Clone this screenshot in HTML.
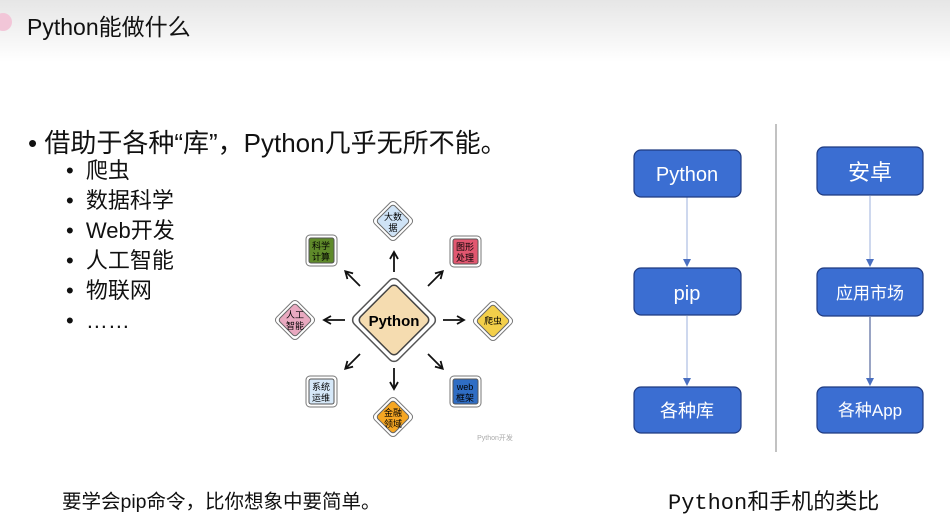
<!DOCTYPE html>
<html><head><meta charset="utf-8"><style>
body{margin:0;width:950px;height:526px;background:#fff;position:relative;overflow:hidden;font-family:"Liberation Sans","Noto Sans CJK SC",sans-serif;}
.hdr{position:absolute;left:0;top:0;width:950px;height:62px;background:linear-gradient(#e6e6e6,#fff);}
.t{position:absolute;white-space:nowrap;color:#111;}
</style></head><body>
<div class="hdr"></div>
<div style="position:absolute;left:-6px;top:13px;width:18px;height:18px;border-radius:50%;background:#f2c6d8"></div>
<div class="t" style="left:27px;top:8px;font-size:23px;">Python能做什么</div>
<div class="t" style="left:28px;top:123px;font-size:26px;">•&nbsp;借助于各种“库”，Python几乎无所不能。</div>
<div class="t" style="left:66px;top:156px;font-size:22px;line-height:30px;">•&nbsp;&nbsp;爬虫<br>•&nbsp;&nbsp;数据科学<br>•&nbsp;&nbsp;Web开发<br>•&nbsp;&nbsp;人工智能<br>•&nbsp;&nbsp;物联网<br>•&nbsp;&nbsp;……</div>
<div class="t" style="left:62px;top:485px;font-size:19.5px;">要学会pip命令，比你想象中要简单。</div>
<div class="t" style="left:668px;top:484px;font-size:22px;font-family:'Liberation Mono','Noto Sans CJK SC',monospace;">Python和手机的类比</div>
<svg width="950" height="526" style="position:absolute;left:0;top:0" font-family="Liberation Sans,Noto Sans CJK SC,sans-serif">
<defs><marker id="a" markerUnits="userSpaceOnUse" markerWidth="10" markerHeight="10" refX="7" refY="5" orient="auto"><path d="M1,1L8,5L1,9" fill="none" stroke="#111" stroke-width="1.8"/></marker>
<marker id="b" markerWidth="8" markerHeight="8" refX="6" refY="4" orient="auto"><path d="M0,0L8,4L0,8z" fill="#4a6fc0"/></marker></defs>
<g transform="translate(394,320) rotate(45)"><rect x="-31" y="-31" width="62" height="62" rx="6" fill="#fff" stroke="#555" stroke-width="1.5"/><rect x="-26" y="-26" width="52" height="52" rx="5" fill="#f5dcb0" stroke="#444" stroke-width="1.5"/></g>
<text x="394" y="326" font-size="15" font-weight="bold" text-anchor="middle">Python</text>
<g stroke="#111" stroke-width="1.8" marker-end="url(#a)">
<line x1="394" y1="272" x2="394" y2="253"/><line x1="394" y1="368" x2="394" y2="388"/>
<line x1="345" y1="320" x2="325" y2="320"/><line x1="443" y1="320" x2="463" y2="320"/>
<line x1="360" y1="286" x2="346" y2="272"/><line x1="428" y1="286" x2="442" y2="272"/>
<line x1="360" y1="354" x2="346" y2="368"/><line x1="428" y1="354" x2="442" y2="368"/>
</g>
<g font-size="9" text-anchor="middle">
<g transform="translate(393,221) rotate(45)"><rect x="-15" y="-15" width="30" height="30" rx="4" fill="#fff" stroke="#777"/><rect x="-12" y="-12" width="24" height="24" rx="3" fill="#cfe3f6" stroke="#666"/></g><text x="393" y="220">大数</text><text x="393" y="231">据</text>
<g transform="translate(493,321) rotate(45)"><rect x="-15" y="-15" width="30" height="30" rx="4" fill="#fff" stroke="#777"/><rect x="-12" y="-12" width="24" height="24" rx="3" fill="#f3cf4a" stroke="#666"/></g><text x="493" y="324">爬虫</text>
<g transform="translate(393,417) rotate(45)"><rect x="-15" y="-15" width="30" height="30" rx="4" fill="#fff" stroke="#777"/><rect x="-12" y="-12" width="24" height="24" rx="3" fill="#f5a623" stroke="#666"/></g><text x="393" y="416">金融</text><text x="393" y="427">领域</text>
<g transform="translate(295,320) rotate(45)"><rect x="-15" y="-15" width="30" height="30" rx="4" fill="#fff" stroke="#777"/><rect x="-12" y="-12" width="24" height="24" rx="3" fill="#e9a9c0" stroke="#666"/></g><text x="295" y="318">人工</text><text x="295" y="329">智能</text>
<rect x="306" y="235" width="31" height="31" rx="4" fill="#fff" stroke="#777"/><rect x="309" y="238" width="25" height="25" rx="2" fill="#5f8a2a" stroke="#555"/><text x="321" y="249">科学</text><text x="321" y="260">计算</text>
<rect x="450" y="236" width="31" height="31" rx="4" fill="#fff" stroke="#777"/><rect x="453" y="239" width="25" height="25" rx="2" fill="#e25770" stroke="#555"/><text x="465" y="250">图形</text><text x="465" y="261">处理</text>
<rect x="306" y="376" width="31" height="31" rx="4" fill="#fff" stroke="#777"/><rect x="309" y="379" width="25" height="25" rx="2" fill="#d6e8f8" stroke="#555"/><text x="321" y="390">系统</text><text x="321" y="401">运维</text>
<rect x="450" y="376" width="31" height="31" rx="4" fill="#fff" stroke="#777"/><rect x="453" y="379" width="25" height="25" rx="2" fill="#2f6dc4" stroke="#555"/><text x="465" y="390">web</text><text x="465" y="401">框架</text>
</g>
<text x="495" y="440" font-size="7" fill="#aaa" text-anchor="middle">Python开发</text>
<line x1="776" y1="124" x2="776" y2="452" stroke="#999" stroke-width="1.2"/>
<g stroke="#9db0dd" stroke-width="1" marker-end="url(#b)">
<line x1="687" y1="197" x2="687" y2="265"/><line x1="687" y1="316" x2="687" y2="384"/>
<line x1="870" y1="196" x2="870" y2="265"/><line x1="870" y1="317" x2="870" y2="384" stroke="#334a8a"/>
</g>
<g fill="#3b6ed2" stroke="#1f3a80" stroke-width="1.2">
<rect x="634" y="150" width="107" height="47" rx="7"/><rect x="634" y="268" width="107" height="47" rx="7"/><rect x="634" y="387" width="107" height="46" rx="7"/>
<rect x="817" y="147" width="106" height="48" rx="7"/><rect x="817" y="268" width="106" height="48" rx="7"/><rect x="817" y="387" width="106" height="46" rx="7"/>
</g>
<g fill="#fff" text-anchor="middle">
<text x="687" y="181" font-size="20">Python</text><text x="687" y="300" font-size="20">pip</text><text x="687" y="417" font-size="18">各种库</text>
<text x="870" y="180" font-size="22">安卓</text><text x="870" y="299" font-size="17">应用市场</text><text x="870" y="416" font-size="17">各种App</text>
</g>
</svg>
</body></html>
